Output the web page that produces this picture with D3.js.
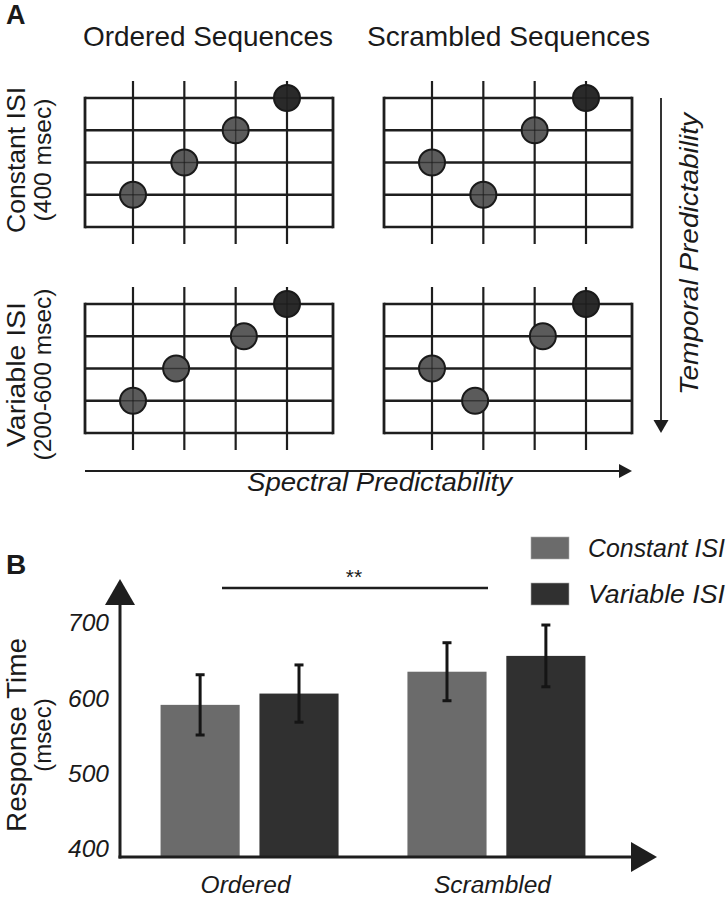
<!DOCTYPE html>
<html>
<head>
<meta charset="utf-8">
<script src="https://cdn.jsdelivr.net/npm/d3@7"></script>
<style>
  html, body { margin: 0; padding: 0; background: #fff; }
  svg { display: block; }
  text { font-family: "Liberation Sans", Arial, Helvetica, sans-serif; fill: #1a1a1a; }
</style>
</head>
<body>
<svg id="chart" width="728" height="899"></svg>
<script>
// ---------- Panel A data ----------
const columnTitles = ["Ordered Sequences", "Scrambled Sequences"];
const rowLabels = ["Constant ISI", "Variable ISI"];
const rowSubLabels = ["(400 msec)", "(200-600 msec)"];
const gridColumns = [1, 2, 3, 4];          // vertical grid lines (tone positions)
const gridRows = [0, 1, 2, 3, 4];          // horizontal grid lines (pitch levels)
// tone position (x, in column units) and pitch level (row) for each sequence
const orderedConstantX = [1, 2, 3, 4];
const orderedConstantRow = [1, 2, 3, 4];
const scrambledConstantX = [1, 2, 3, 4];
const scrambledConstantRow = [2, 1, 3, 4];
const orderedVariableX = [1, 1.84, 3.16, 4];
const orderedVariableRow = [1, 2, 3, 4];
const scrambledVariableX = [1, 1.84, 3.16, 4];
const scrambledVariableRow = [2, 1, 3, 4];
const axisLabelX = "Spectral Predictability";
const axisLabelY = "Temporal Predictability";

// ---------- Panel B data ----------
const groups = ["Ordered", "Scrambled"];
const seriesNames = ["Constant ISI", "Variable ISI"];
const constantMeans = [590, 634];
const variableMeans = [605, 655];
const constantErrors = [40, 38.5];
const variableErrors = [38, 41];
const yTicks = [400, 500, 600, 700];
const significanceLabel = "**";

const svg = d3.select("#chart");
const ink = "#1e1e1e";
const colorConstant = "#6b6b6b";
const colorVariable = "#303030";

// ================= PANEL A =================
svg.append("text").attr("x", 6).attr("y", 24)
  .attr("font-size", 27).attr("font-weight", "bold").text("A");

const titleCenters = [208, 508.5];
const titleLengths = [250, 283];
columnTitles.forEach((t, i) => {
  svg.append("text").attr("x", titleCenters[i]).attr("y", 46)
    .attr("text-anchor", "middle").attr("font-size", 28)
    .attr("textLength", titleLengths[i]).attr("lengthAdjust", "spacingAndGlyphs")
    .text(t);
});

// row labels (rotated)
const rowCenters = [160, 374.5];
const rowLengths = [146, 145];
const subLengths = [123, 172];
rowLabels.forEach((t, i) => {
  svg.append("text")
    .attr("transform", `translate(24.5,${rowCenters[i]}) rotate(-90)`)
    .attr("text-anchor", "middle").attr("font-size", 26)
    .attr("textLength", rowLengths[i]).attr("lengthAdjust", "spacingAndGlyphs")
    .text(t);
  svg.append("text")
    .attr("transform", `translate(51,${rowCenters[i]}) rotate(-90)`)
    .attr("text-anchor", "middle").attr("font-size", 24.5)
    .attr("textLength", subLengths[i]).attr("lengthAdjust", "spacingAndGlyphs")
    .text(rowSubLabels[i]);
});

const panels = [
  { left: 85,  top: 98,  xs: orderedConstantX,   rows: orderedConstantRow },
  { left: 384, top: 98,  xs: scrambledConstantX, rows: scrambledConstantRow },
  { left: 85,  top: 304, xs: orderedVariableX,   rows: orderedVariableRow },
  { left: 384, top: 304, xs: scrambledVariableX, rows: scrambledVariableRow }
];
const gridW = 248, gridH = 129;

panels.forEach(p => {
  const g = svg.append("g");
  const x = d3.scaleLinear().domain([1, 4]).range([p.left + 48, p.left + 202]);
  const y = d3.scaleLinear().domain([0, 4]).range([p.top + gridH, p.top]);

  g.selectAll("line.h").data(gridRows).join("line")
    .attr("x1", p.left).attr("x2", p.left + gridW)
    .attr("y1", d => y(d)).attr("y2", d => y(d))
    .attr("stroke", ink).attr("stroke-width", 2.6);
  g.selectAll("line.b").data([p.left, p.left + gridW]).join("line")
    .attr("x1", d => d).attr("x2", d => d)
    .attr("y1", p.top - 1.3).attr("y2", p.top + gridH + 1.3)
    .attr("stroke", ink).attr("stroke-width", 2.8);
  g.selectAll("line.v").data(gridColumns).join("line")
    .attr("x1", d => x(d)).attr("x2", d => x(d))
    .attr("y1", p.top - 17).attr("y2", p.top + gridH + 17)
    .attr("stroke", ink).attr("stroke-width", 2.2);
  const pts = p.xs.map((v, i) => ({ x: v, row: p.rows[i], last: i === p.xs.length - 1 }));
  const c = g.selectAll("g.pt").data(pts).join("g");
  c.append("circle")
    .attr("cx", d => x(d.x)).attr("cy", d => y(d.row)).attr("r", 13)
    .attr("fill", d => d.last ? "#2a2a2a" : "#5b5b5b")
    .attr("stroke", "#1a1a1a").attr("stroke-width", 2);
  c.append("line")
    .attr("x1", d => x(d.x) - 13).attr("x2", d => x(d.x) + 13)
    .attr("y1", d => y(d.row)).attr("y2", d => y(d.row))
    .attr("stroke", "#1a1a1a").attr("stroke-width", 1.4).attr("opacity", 0.6);
  c.append("line")
    .attr("x1", d => x(d.x)).attr("x2", d => x(d.x))
    .attr("y1", d => y(d.row) - 13).attr("y2", d => y(d.row) + 13)
    .attr("stroke", "#1a1a1a").attr("stroke-width", 1.4)
    .attr("opacity", d => Number.isInteger(d.x) ? 0.6 : 0);
});

// Spectral arrow
svg.append("line").attr("x1", 85).attr("x2", 620).attr("y1", 471).attr("y2", 471)
  .attr("stroke", ink).attr("stroke-width", 1.8);
svg.append("path").attr("d", "M619,464L632,471L619,478Z").attr("fill", ink);
svg.append("text").attr("x", 379.5).attr("y", 491).attr("text-anchor", "middle")
  .attr("font-size", 26).attr("font-style", "italic")
  .attr("textLength", 265).attr("lengthAdjust", "spacingAndGlyphs")
  .text(axisLabelX);

// Temporal arrow
svg.append("line").attr("x1", 661).attr("x2", 661).attr("y1", 98).attr("y2", 421)
  .attr("stroke", ink).attr("stroke-width", 1.8);
svg.append("path").attr("d", "M653.5,420L668.5,420L661,433Z").attr("fill", ink);
svg.append("text").attr("transform", "translate(698,254) rotate(-90)")
  .attr("text-anchor", "middle").attr("font-size", 26).attr("font-style", "italic")
  .attr("textLength", 282).attr("lengthAdjust", "spacingAndGlyphs")
  .text(axisLabelY);

// ================= PANEL B =================
svg.append("text").attr("x", 6).attr("y", 574)
  .attr("font-size", 28).attr("font-weight", "bold").text("B");

const axisY = 857, axisX = 120;
const y = d3.scaleLinear().domain([400, 700]).range([848, 622]);
const x0 = d3.scaleBand().domain(groups).range([126, 620]).paddingInner(0.279).paddingOuter(0.14);
const x1 = d3.scaleBand().domain(seriesNames).range([0, x0.bandwidth()]).paddingInner(0.2);
const color = d3.scaleOrdinal().domain(seriesNames).range([colorConstant, colorVariable]);

const barData = [];
groups.forEach((gname, i) => {
  barData.push({ group: gname, series: seriesNames[0], mean: constantMeans[i], err: constantErrors[i] });
  barData.push({ group: gname, series: seriesNames[1], mean: variableMeans[i], err: variableErrors[i] });
});

svg.append("g").selectAll("rect").data(barData).join("rect")
  .attr("x", d => x0(d.group) + x1(d.series))
  .attr("width", x1.bandwidth())
  .attr("y", d => y(d.mean))
  .attr("height", d => axisY - y(d.mean))
  .attr("fill", d => color(d.series));

const eb = svg.append("g").attr("stroke", "#151515").attr("stroke-width", 3);
barData.forEach(d => {
  const cx = x0(d.group) + x1(d.series) + x1.bandwidth() / 2;
  eb.append("line").attr("x1", cx).attr("x2", cx)
    .attr("y1", y(d.mean + d.err)).attr("y2", y(d.mean - d.err));
  [d.mean + d.err, d.mean - d.err].forEach(v => {
    eb.append("line").attr("x1", cx - 4.5).attr("x2", cx + 4.5)
      .attr("y1", y(v)).attr("y2", y(v));
  });
});

svg.append("line").attr("x1", axisX).attr("x2", axisX).attr("y1", axisY + 1.5).attr("y2", 604)
  .attr("stroke", ink).attr("stroke-width", 3);
svg.append("path").attr("d", `M105,605L135,605L${axisX},579Z`).attr("fill", ink);
svg.append("line").attr("x1", axisX - 1.5).attr("x2", 632).attr("y1", axisY).attr("y2", axisY)
  .attr("stroke", ink).attr("stroke-width", 3);
svg.append("path").attr("d", `M631,842L657,${axisY}L631,872Z`).attr("fill", ink);

const yAxis = d3.axisLeft(y).tickValues(yTicks).tickSize(0).tickPadding(0).tickFormat(d3.format("d"));
const yg = svg.append("g").attr("transform", "translate(109,0)").call(yAxis);
yg.select(".domain").remove();
yg.selectAll("text").attr("font-size", 24.5).attr("font-style", "italic")
  .attr("fill", "#1a1a1a").attr("font-family", "\"Liberation Sans\", Arial, sans-serif")
  .attr("dy", "0.36em");

const xAxis = d3.axisBottom(x0).tickSize(0).tickPadding(0);
const xg = svg.append("g").attr("transform", "translate(-4,875)").call(xAxis);
xg.select(".domain").remove();
xg.selectAll("text").attr("font-size", 24.5).attr("font-style", "italic")
  .attr("fill", "#1a1a1a").attr("font-family", "\"Liberation Sans\", Arial, sans-serif")
  .attr("dy", "0.75em");

svg.append("text").attr("transform", "translate(25.5,735) rotate(-90)")
  .attr("text-anchor", "middle").attr("font-size", 27)
  .attr("textLength", 194).attr("lengthAdjust", "spacingAndGlyphs")
  .text("Response Time");
svg.append("text").attr("transform", "translate(51,735) rotate(-90)")
  .attr("text-anchor", "middle").attr("font-size", 24)
  .text("(msec)");

svg.append("line").attr("x1", 222).attr("x2", 488).attr("y1", 588).attr("y2", 588)
  .attr("stroke", ink).attr("stroke-width", 2.6);
svg.append("text").attr("x", 354).attr("y", 584).attr("text-anchor", "middle")
  .attr("font-size", 21).text(significanceLabel);

const legend = svg.append("g");
seriesNames.forEach((s, i) => {
  const ly = 537 + i * 46;
  legend.append("rect").attr("x", 531).attr("y", ly).attr("width", 38).attr("height", 22)
    .attr("fill", color(s)).attr("stroke", "#aaa").attr("stroke-width", 0.6);
  legend.append("text").attr("x", 588).attr("y", ly + 11).attr("dy", "0.36em")
    .attr("font-size", 25).attr("font-style", "italic")
    .attr("textLength", 137).attr("lengthAdjust", "spacingAndGlyphs")
    .text(s);
});
</script>
</body>
</html>
